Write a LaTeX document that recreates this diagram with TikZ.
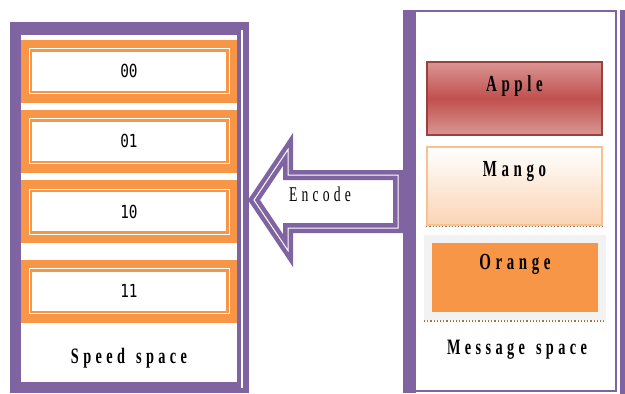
\documentclass[tikz,border=0pt]{standalone}
\usepackage{fontspec}
\usetikzlibrary{positioning}
\newfontfamily\capfont[FakeStretch=0.65,LetterSpace=20]{Liberation Serif}
\newfontfamily\digfont[FakeStretch=0.8]{DejaVu Sans Mono}
\definecolor{panelpurple}{HTML}{8064A2}
\definecolor{slotorange}{HTML}{F79646}
\definecolor{applered}{HTML}{C0504D}
\definecolor{applelight}{HTML}{DA9694}
\definecolor{mangoedge}{HTML}{FAC090}
\definecolor{mangofill}{HTML}{FBD4B4}
\definecolor{framegray}{HTML}{F2F2F2}
\definecolor{dotbrown}{HTML}{B0703A}

\begin{document}
\begin{tikzpicture}[x=1pt,y=-1pt,
	slot/.style={rectangle, fill=slotorange, minimum width=216pt, minimum height=63pt, inner sep=0pt,
		font=\digfont\fontsize{18}{18}\selectfont,
		path picture={
			\fill[white] ([xshift=11pt,yshift=-12pt]path picture bounding box.north west) rectangle ([xshift=-11pt,yshift=12pt]path picture bounding box.south east);
			\draw[white,line width=1pt] ([xshift=8pt,yshift=-9pt]path picture bounding box.north west) rectangle ([xshift=-8pt,yshift=9pt]path picture bounding box.south east);}},
	fruit/.style={rectangle, minimum width=175pt, inner sep=0pt},
	fruitname/.style={anchor=center, yshift=-25pt, font=\capfont\bfseries\fontsize{23}{23}\selectfont},
	caption/.style={font=\capfont\bfseries\fontsize{22}{22}\selectfont}]
	\useasboundingbox (0,0) rectangle (625,394);

	\fill[panelpurple] (10,22) rectangle (249,393);
	\fill[white] (21,35) rectangle (237,382);
	\draw[white,line width=1.5pt] (242,30) -- (242,388);

	\node[slot] (s00) at (129,71) {00};
	\node[slot] (s01) [below=7pt of s00] {01};
	\node[slot] (s10) [below=7pt of s01] {10};
	\node[slot] (s11) [below=16pt of s10] {11};
	\node[caption] (speed) at (129,358) {Speed\hspace{3pt} space};

	\draw[panelpurple, line width=4.5pt, double=white, double distance=1pt, line join=miter]
		(254,200) -- (288,149.4) -- (288,175) -- (398,175) -- (398,228) -- (288,228) -- (288,250.6) -- cycle;
	\node[font=\capfont\fontsize{21}{21}\selectfont] (encode) at (320,194) {Encode};

	\fill[panelpurple] (403,10) rectangle (416,393);
	\draw[panelpurple,line width=2pt] (416,11) -- (616,11) -- (616,391) -- (416,391);
	\fill[panelpurple] (620,10) rectangle (625,394);

	\node[fruit, minimum height=73pt, draw=applered!80!black, line width=1.5pt, top color=applelight, bottom color=applelight, middle color=applered, label={[fruitname]north:Apple}] (apple) at (514.5,98.5) {};
	\node[fruit, minimum height=78pt, draw=mangoedge, line width=1.5pt, top color=white, bottom color=mangofill, label={[fruitname]north:Mango}] (mango) at (514.5,186) {};
	\node[fruit, minimum width=174pt, minimum height=77pt, draw=framegray, line width=8pt, fill=slotorange, label={[fruitname,yshift=-4pt]north:Orange}] (orange) at (515,277.5) {};
	\draw[dotbrown, dotted, line width=1.2pt] ([yshift=-1pt]mango.south west) -- ([yshift=-1pt]mango.south east);
	\draw[dotbrown, dotted, line width=1.2pt] ([yshift=-1pt]orange.south west) -- ([yshift=-1pt]orange.south east);
	\node[caption] (message) at (517,350) {Message\hspace{3pt} space};
\end{tikzpicture}
\end{document}
